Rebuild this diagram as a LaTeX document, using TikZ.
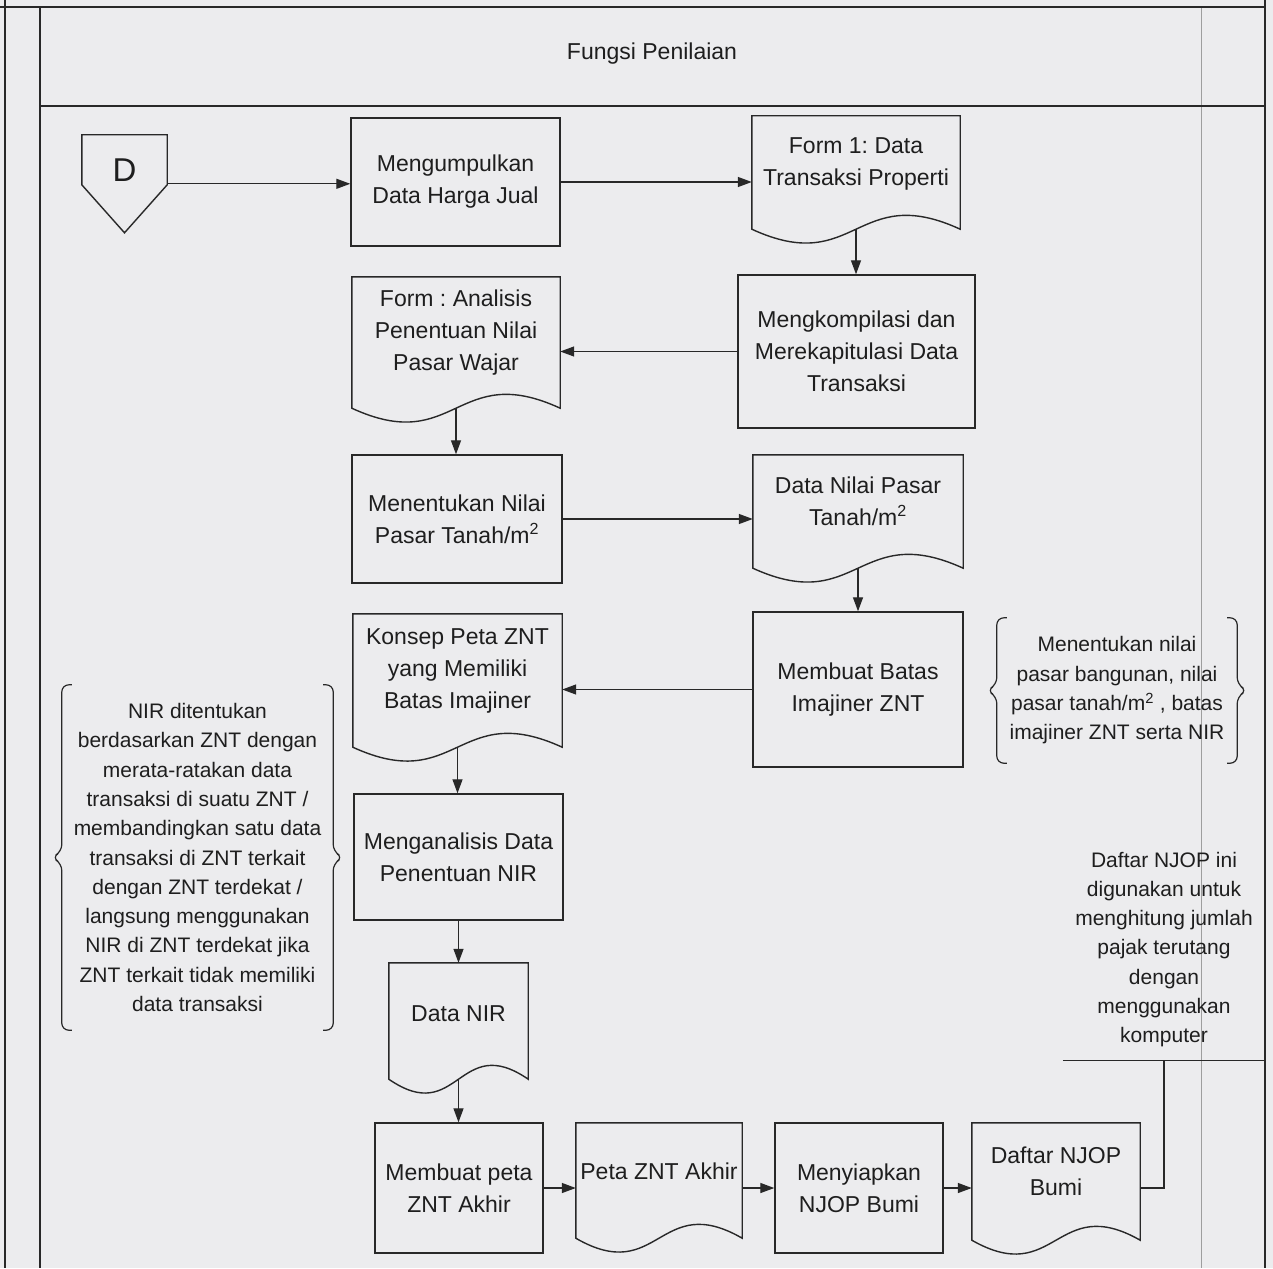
\documentclass[tikz,border=0pt]{standalone}
\usepackage{fontspec}
\setmainfont{Liberation Sans}
\usetikzlibrary{calc,arrows.meta}
\frenchspacing

\definecolor{paper}{RGB}{236,236,238}
\definecolor{ink}{RGB}{40,40,40}
\definecolor{textink}{RGB}{30,30,30}

\newcommand\bxfont{\fontsize{23pt}{32pt}\selectfont}
\newcommand\ntfont{\fontsize{21pt}{29.3pt}\selectfont}

% outline of a document symbol (wavy bottom) around a named node
\newcommand\docoutline[1]{%
  \draw[boxline] (#1.north west) -- (#1.north east) -- (#1.south east)
    .. controls ($(#1.south)+(0,-48)$) and ($(#1.south)+(0,48)$) .. (#1.south west) -- cycle;}

\tikzset{
  boxline/.style={draw=ink, line width=1.4pt},
  proc/.style={boxline, rectangle, inner sep=0pt, align=center, font=\bxfont, text=textink},
  docbox/.style={rectangle, inner sep=0pt},
  doctext/.style={align=center, font=\bxfont, text=textink, inner sep=0pt},
  arr/.style={draw=ink, line width=1.3pt, -{Triangle[length=14pt,width=10pt]}},
  frameline/.style={draw=ink, line width=2.2pt},
  note/.style={align=center, font=\ntfont, text=textink, inner sep=0pt},
  brace/.style={draw=ink, line width=1.2pt, rounded corners=7pt},
}

\begin{document}
\begin{tikzpicture}[x=1pt,y=-1pt]
\fill[paper] (0,0) rectangle (1273,1268);
\useasboundingbox (0,0) rectangle (1273,1268);

% swimlane frame
\draw[ink!45, line width=0.6pt] (1201,7) -- (1201,1268);
\draw[frameline] (0,7) -- (1265,7);
\draw[frameline] (5,0) -- (5,1268);
\draw[frameline] (40,7) -- (40,1268);
\draw[frameline] (40,106) -- (1265,106);
\draw[frameline] (1265,0) -- (1265,1268);
\node[font=\bxfont, text=textink] (title) at (652,54) {Fungsi Penilaian};

% off-page connector
\node[font=\fontsize{33pt}{33pt}\selectfont, text=textink, minimum width=85pt, minimum height=70pt, inner sep=0pt] (D) at (124.5,170) {D};
\draw[boxline] (D.north west) -- (D.north east) -- ($(D.north east)+(0,50)$)
  -- ($(D.north)+(0,98)$) -- ($(D.north west)+(0,50)$) -- cycle;
\coordinate (dout) at ($(D.north east)+(0,49)$);

% processes
\node[proc, minimum width=209pt, minimum height=128pt] (m1) at (455.5,182) {Mengumpulkan\\Data Harga Jual};
\node[proc, minimum width=237pt, minimum height=153pt] (mk) at (856.5,351.5) {Mengkompilasi dan\\Merekapitulasi Data\\Transaksi};
\node[proc, minimum width=210pt, minimum height=128pt] (mn) at (457,519) {Menentukan Nilai\\Pasar Tanah/m\textsuperscript{2}};
\node[proc, minimum width=210pt, minimum height=155pt] (mb) at (858,689.5) {Membuat Batas\\Imajiner ZNT};
\node[proc, minimum width=209pt, minimum height=126pt] (ma) at (458.5,857) {Menganalisis Data\\Penentuan NIR};
\node[proc, minimum width=168pt, minimum height=130pt] (mp) at (459,1188) {Membuat peta\\ZNT Akhir};
\node[proc, minimum width=168pt, minimum height=130pt] (ms) at (859,1188) {Menyiapkan\\NJOP Bumi};

% documents
\node[docbox, minimum width=208pt, minimum height=113pt] (f1) at (856,172.5) {};
\node[doctext] (f1t) at ($(f1)+(0,-9)$) {Form 1: Data\\Transaksi Properti};
\docoutline{f1}
\node[docbox, minimum width=208pt, minimum height=131pt] (fa) at (456,342.5) {};
\node[doctext] (fat) at ($(fa)+(0,-10)$) {Form : Analisis\\Penentuan Nilai\\Pasar Wajar};
\docoutline{fa}
\node[docbox, minimum width=210pt, minimum height=113pt] (dn) at (858,511.5) {};
\node[doctext] (dnt) at ($(dn)+(0,-10)$) {Data Nilai Pasar\\Tanah/m\textsuperscript{2}};
\docoutline{dn}
\node[docbox, minimum width=209pt, minimum height=133pt] (kp) at (457.5,680.5) {};
\node[doctext] (kpt) at ($(kp)+(0,-10)$) {Konsep Peta ZNT\\yang Memiliki\\Batas Imajiner};
\docoutline{kp}
\node[docbox, minimum width=139pt, minimum height=116pt] (dnir) at (458.5,1021) {};
\node[doctext] (dnirt) at ($(dnir)+(0,-7)$) {Data NIR};
\docoutline{dnir}
\node[docbox, minimum width=166pt, minimum height=115pt] (pz) at (659,1180.5) {};
\node[doctext] (pzt) at ($(pz)+(0,-9)$) {Peta ZNT Akhir};
\docoutline{pz}
\node[docbox, minimum width=168pt, minimum height=117pt] (dnb) at (1056,1181.5) {};
\node[doctext] (dnbt) at ($(dnb)+(0,-10)$) {Daftar NJOP\\Bumi};
\docoutline{dnb}

% flow
\draw[arr] (dout) -- (dout -| m1.west);
\draw[arr] (m1.east) -- (m1.east -| f1.west);
\draw[arr] (f1.south) -- (f1.south |- mk.north);
\draw[arr] (mk.west) -- (mk.west -| fa.east);
\draw[arr] (fa.south) -- (fa.south |- mn.north);
\draw[arr] (mn.east) -- (mn.east -| dn.west);
\draw[arr] (dn.south) -- (dn.south |- mb.north);
\draw[arr] (mb.west) -- (mb.west -| kp.east);
\draw[arr] (kp.south) -- (kp.south |- ma.north);
\draw[arr] (ma.south) -- (ma.south |- dnir.north);
\draw[arr] (dnir.south) -- (dnir.south |- mp.north);
\draw[arr] (mp.east) -- (mp.east -| pz.west);
\draw[arr] (ms.west -| pz.east) -- (ms.west);
\draw[arr] (ms.east) -- (ms.east -| dnb.west);

% annotations
\node[note, minimum width=271pt, minimum height=345pt] (nir) at (197.5,857.5)
  {NIR ditentukan\\berdasarkan ZNT dengan\\merata-ratakan data\\transaksi di suatu ZNT /\\membandingkan satu data\\transaksi di ZNT terkait\\dengan ZNT terdekat /\\langsung menggunakan\\NIR di ZNT terdekat jika\\ZNT terkait tidak memiliki\\data transaksi};
\draw[brace] ($(nir.north west)+(10,0)$) -- (nir.north west) -- ($(nir.west)+(0,-6)$)
  -- ($(nir.west)+(-10,0)$) -- ($(nir.west)+(0,6)$) -- (nir.south west) -- ($(nir.south west)+(10,0)$);
\draw[brace] ($(nir.north east)+(-10,0)$) -- (nir.north east) -- ($(nir.east)+(0,-6)$)
  -- ($(nir.east)+(10,0)$) -- ($(nir.east)+(0,6)$) -- (nir.south east) -- ($(nir.south east)+(-10,0)$);

\node[note, minimum width=240pt, minimum height=145pt] (rn) at (1117,690.5)
  {Menentukan nilai\\pasar bangunan, nilai\\pasar tanah/m\textsuperscript{2} , batas\\imajiner ZNT serta NIR};
\draw[brace] ($(rn.north west)+(10,0)$) -- (rn.north west) -- ($(rn.west)+(0,-6)$)
  -- ($(rn.west)+(-10,0)$) -- ($(rn.west)+(0,6)$) -- (rn.south west) -- ($(rn.south west)+(10,0)$);
\draw[brace] ($(rn.north east)+(-10,0)$) -- (rn.north east) -- ($(rn.east)+(0,-6)$)
  -- ($(rn.east)+(10,0)$) -- ($(rn.east)+(0,6)$) -- (rn.south east) -- ($(rn.south east)+(-10,0)$);

\node[note, minimum width=202pt, minimum height=221pt] (njop) at (1164,949.5)
  {Daftar NJOP ini\\digunakan untuk\\menghitung jumlah\\pajak terutang\\dengan\\menggunakan\\komputer};
\draw[boxline] (njop.south west) -- (njop.south east);
\draw[boxline] (ms.east -| dnb.east) -| (njop.south);
\end{tikzpicture}
\end{document}
